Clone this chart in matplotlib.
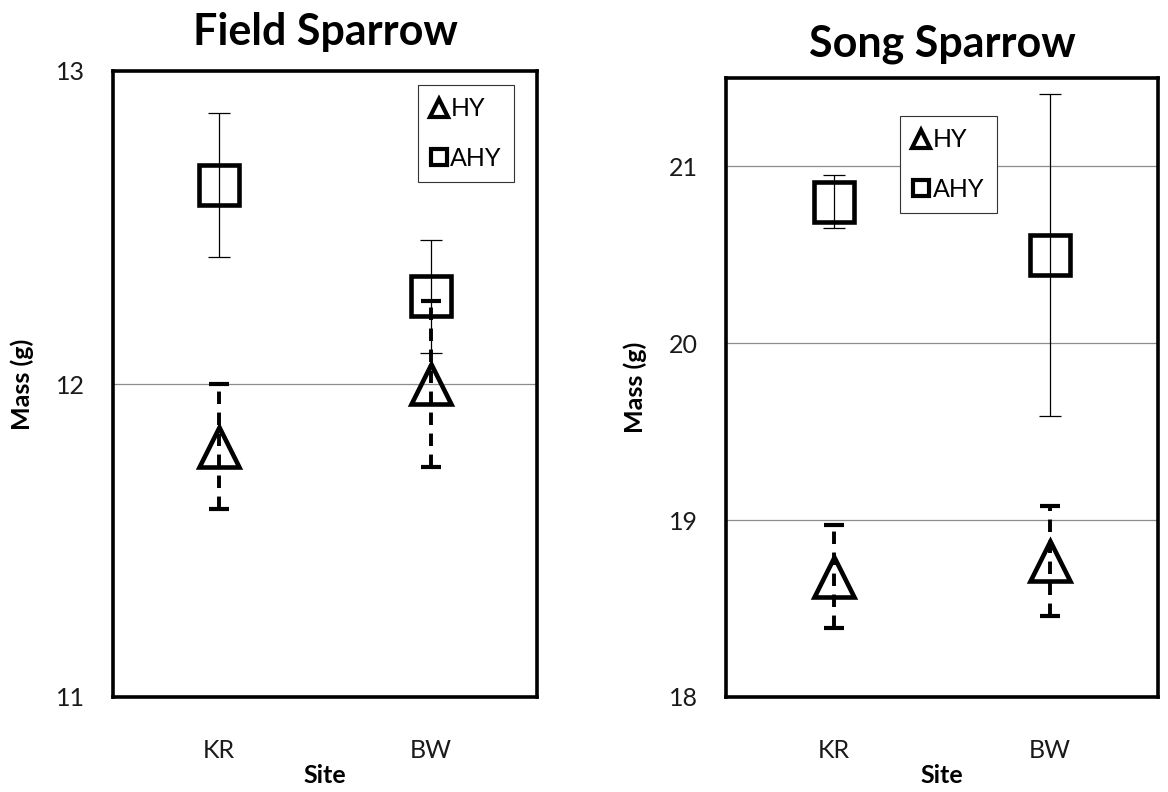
import matplotlib
matplotlib.use("Agg")
import matplotlib.pyplot as plt
from matplotlib.lines import Line2D

plt.rcParams['font.family'] = ['Lato', 'DejaVu Sans']

sites = ['KR', 'BW']

field_hy_mean = [11.80, 12.00]
field_hy_err = [0.20, 0.265]
field_ahy_mean = [12.635, 12.28]
field_ahy_err = [0.23, 0.18]

song_hy_mean = [18.68, 18.77]
song_hy_err = [0.29, 0.31]
song_ahy_mean = [20.80, 20.50]
song_ahy_err = [0.15, 0.91]

panels = [
    dict(title='Field Sparrow', hy=field_hy_mean, hye=field_hy_err,
         ahy=field_ahy_mean, ahye=field_ahy_err, ylim=(11, 13), yticks=[11, 12, 13]),
    dict(title='Song Sparrow', hy=song_hy_mean, hye=song_hy_err,
         ahy=song_ahy_mean, ahye=song_ahy_err, ylim=(18, 21.5), yticks=[18, 19, 20, 21]),
]

W, H = 1168, 792
fig = plt.figure(figsize=(W / 100, H / 100), dpi=100)
rects = [
    [113 / W, (H - 697) / H, 424 / W, 626 / H],
    [726 / W, (H - 697) / H, 432 / W, 619 / H],
]
legend_pos = [(0.719, 0.978), (0.403, 0.939)]
title_y = [1.041, 1.035]

for i, p in enumerate(panels):
    ax = fig.add_axes(rects[i])
    x = list(range(1, len(sites) + 1))
    ax.set_xlim(0.5, len(sites) + 0.5)
    ax.set_ylim(*p['ylim'])
    ax.set_yticks(p['yticks'])
    ax.set_xticks(x)
    ax.set_xticklabels(sites)
    for yv in p['yticks']:
        if p['ylim'][0] < yv < p['ylim'][1]:
            ax.axhline(yv, color='#8c8c8c', lw=0.9, zorder=0)

    # AHY: thin solid error bars, hollow squares
    ax.errorbar(x, p['ahy'], yerr=p['ahye'], fmt='none', ecolor='black',
                elinewidth=0.9, capsize=8, capthick=0.9, zorder=2)
    ax.plot(x, p['ahy'], linestyle='none', marker='s', markersize=29,
            markerfacecolor='none', markeredgecolor='black', markeredgewidth=3.3, zorder=3)

    # HY: thick dashed error bars, hollow triangles
    eb = ax.errorbar(x, p['hy'], yerr=p['hye'], fmt='none', ecolor='black',
                     elinewidth=2.8, capsize=7, capthick=3, zorder=4)
    for lc in eb[2]:
        lc.set_linestyle((0, (3.2, 2.2)))
        lc.set_capstyle('butt')
    ax.plot(x, p['hy'], linestyle='none', marker='^', markersize=29,
            markerfacecolor='none', markeredgecolor='black', markeredgewidth=3.3, zorder=5)

    for s in ax.spines.values():
        s.set_linewidth(2.6)
        s.set_color('black')
    ax.tick_params(axis='both', length=0, labelsize=18, colors='#1a1a1a')
    ax.tick_params(axis='y', pad=20)
    ax.tick_params(axis='x', pad=30)

    ax.set_title(p['title'], fontsize=31, fontweight='bold', y=title_y[i], pad=0)
    ax.set_xlabel('Site', fontsize=18, fontweight='bold', labelpad=2)
    ax.set_ylabel('Mass (g)', fontsize=18, fontweight='bold', labelpad=16)

    handles = [
        Line2D([], [], linestyle='none', marker='^', markersize=13,
               markerfacecolor='none', markeredgecolor='black', markeredgewidth=3),
        Line2D([], [], linestyle='none', marker='s', markersize=12,
               markerfacecolor='none', markeredgecolor='black', markeredgewidth=3),
    ]
    leg = ax.legend(handles, ['HY', 'AHY'], loc='upper left', bbox_to_anchor=legend_pos[i],
                    borderaxespad=0, fancybox=False, framealpha=1, edgecolor='#333333',
                    fontsize=18, handlelength=0.7, handletextpad=0.1, labelspacing=1.05,
                    borderpad=0.5)
    leg.get_frame().set_linewidth(0.8)

fig.savefig('out.png', dpi=100)
